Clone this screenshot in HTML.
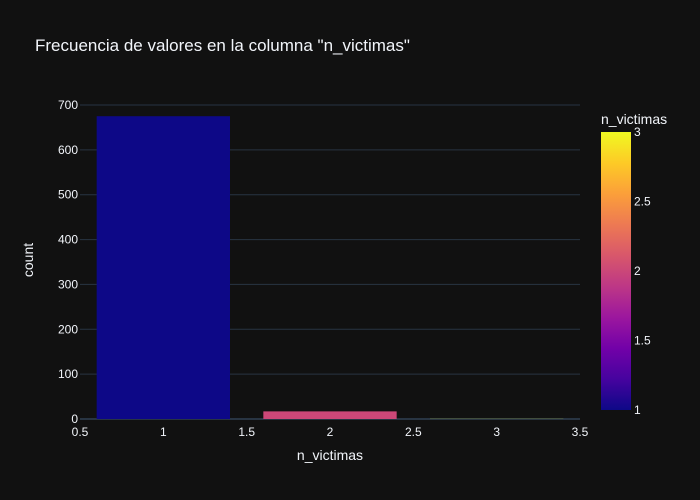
<!DOCTYPE html>
<html><head><meta charset="utf-8"><style>
body{margin:0;background:#111111;}
svg{display:block;font-family:"Liberation Sans",Arial,sans-serif;}
</style></head><body>
<svg id="c" width="700" height="500">
<defs><linearGradient id="cb" x1="0" y1="1" x2="0" y2="0">
<stop offset="0" stop-color="#0d0887"/><stop offset="0.111" stop-color="#46039f"/><stop offset="0.222" stop-color="#7201a8"/><stop offset="0.333" stop-color="#9c179e"/><stop offset="0.444" stop-color="#bd3786"/><stop offset="0.555" stop-color="#d8576b"/><stop offset="0.666" stop-color="#ed7953"/><stop offset="0.777" stop-color="#fb9f3a"/><stop offset="0.888" stop-color="#fdca26"/><stop offset="1" stop-color="#f0f921"/></linearGradient></defs>
<rect width="700" height="500" fill="#111111"/>
<text x="35" y="51" fill="#f2f5fa" font-size="17">Frecuencia de valores en la columna "n_victimas"</text>
<g id="grid"></g><g id="bars"></g><g id="ticks"></g>
<text x="330" y="460" fill="#f2f5fa" font-size="14" text-anchor="middle">n_victimas</text>
<text transform="translate(33,260) rotate(-90)" fill="#f2f5fa" font-size="14" text-anchor="middle">count</text>
<text x="601" y="124" fill="#f2f5fa" font-size="14">n_victimas</text>
<rect x="601" y="132" width="30" height="278" fill="url(#cb)"/>
<g id="cbt"></g>
</svg>
<script>
const categories=[1,2,3];
const counts=[675,17,1];
const yTicks=[0,100,200,300,400,500,600,700];
const xTicks=[0.5,1,1.5,2,2.5,3,3.5];
const cbTicks=[1,1.5,2,2.5,3];
const NS="http://www.w3.org/2000/svg";
const X0=80,X1=580,Y0=419,Y1=105;
const xs=v=>X0+(v-0.5)/3*(X1-X0);
const ys=v=>Y0-v/700*(Y0-Y1);
const colors=["#0d0887","#cc4778","#f0f921"];
function mk(t,a,p){const e=document.createElementNS(NS,t);for(const k in a)e.setAttribute(k,a[k]);document.getElementById(p).appendChild(e);return e;}
yTicks.forEach(v=>{
 if(v>0){const l=mk('line',{x1:X0,x2:X1,y1:ys(v),y2:ys(v),stroke:'#283442','stroke-width':1},'grid');
 
 }
 const t=mk('text',{x:X0-2,y:ys(v)+4,fill:'#f2f5fa','font-size':12,'text-anchor':'end'},'ticks');t.textContent=v;
 
 
});
const zl=mk('line',{x1:X0,x2:X1,y1:Y0,y2:Y0,stroke:'#283442','stroke-width':2},'grid');


xTicks.forEach(v=>{
 const t=mk('text',{x:xs(v),y:Y0+17,fill:'#f2f5fa','font-size':12,'text-anchor':'middle'},'ticks');t.textContent=v;
 
 
});
categories.forEach((c,i)=>{
 const y=ys(counts[i]);
 const r=mk('rect',{x:xs(c-0.4),y:y,width:xs(c+0.4)-xs(c-0.4),height:Math.max(0.5,Y0-y),fill:colors[i],opacity:i==2?0.3:1},'bars');
 
 
});
cbTicks.forEach(v=>{
 const y=410-(v-1)/2*278;
 const t=mk('text',{x:634,y:y+4,fill:'#f2f5fa','font-size':12},'cbt');t.textContent=v;
 
 
});
</script>
</body></html>
